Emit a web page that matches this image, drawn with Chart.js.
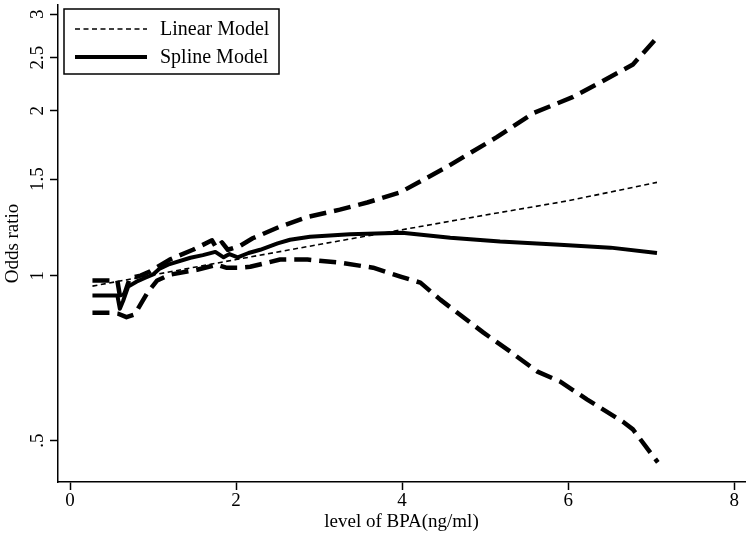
<!DOCTYPE html>
<html>
<head>
<meta charset="utf-8">
<script src="https://cdn.jsdelivr.net/npm/chart.js@4.4.1/dist/chart.umd.min.js"></script>
<style>
html,body{margin:0;padding:0;background:#fff;}
#wrap{width:750px;height:535px;position:relative;}
</style>
</head>
<body>
<div id="wrap"><canvas id="c" width="750" height="535"></canvas></div>
<script>
// ---- data ----
const xTicks = [0, 2, 4, 6, 8];
const yTicks = [0.5, 1, 1.5, 2, 2.5, 3];
const yTickLabels = ['.5', '1', '1.5', '2', '2.5', '3'];

const linearX = [0.27, 1.0, 2.0, 3.0, 4.0, 5.0, 6.0, 7.07];
const linearY = [0.957, 1.003, 1.07, 1.14, 1.213, 1.29, 1.37, 1.48];

const splineX = [0.27, 0.57, 0.60, 0.64, 0.70, 0.80, 0.90, 1.00, 1.08, 1.20, 1.45, 1.60, 1.75, 1.85, 1.92, 2.02, 2.15, 2.29, 2.50, 2.65, 2.89, 3.37, 4.00, 4.58, 5.18, 5.90, 6.51, 7.07];
const splineY = [0.92, 0.92, 0.87, 0.90, 0.955, 0.975, 0.99, 1.005, 1.03, 1.05, 1.078, 1.09, 1.105, 1.08, 1.095, 1.08, 1.10, 1.115, 1.145, 1.163, 1.178, 1.19, 1.198, 1.173, 1.154, 1.139, 1.125, 1.10];

const upperX = [0.27, 0.57, 0.61, 0.66, 0.72, 0.85, 0.96, 1.20, 1.48, 1.71, 1.76, 1.83, 1.90, 2.05, 2.20, 2.53, 2.86, 3.25, 3.58, 3.98, 4.54, 5.14, 5.58, 6.06, 6.63, 6.78, 7.07];
const upperY = [0.98, 0.98, 0.90, 0.93, 0.99, 1.0, 1.017, 1.07, 1.115, 1.16, 1.125, 1.15, 1.115, 1.134, 1.17, 1.229, 1.28, 1.32, 1.36, 1.42, 1.58, 1.79, 1.98, 2.12, 2.36, 2.43, 2.72];

const lowerX = [0.27, 0.48, 0.58, 0.68, 0.78, 0.93, 1.05, 1.20, 1.53, 1.77, 1.88, 2.05, 2.17, 2.53, 2.86, 3.25, 3.65, 3.98, 4.22, 4.46, 4.98, 5.30, 5.63, 5.90, 6.23, 6.66, 6.78, 7.08];
const lowerY = [0.856, 0.856, 0.852, 0.84, 0.85, 0.93, 0.98, 1.004, 1.025, 1.047, 1.034, 1.034, 1.038, 1.07, 1.07, 1.056, 1.034, 0.996, 0.971, 0.904, 0.787, 0.727, 0.668, 0.641, 0.594, 0.541, 0.524, 0.456];

const legendLabels = ['Linear Model', 'Spline Model'];
const xTitle = 'level of BPA(ng/ml)';
const yTitle = 'Odds ratio';

// ---- build ----
function zip(xs, ys) { return xs.map((x, i) => ({x: x, y: ys[i]})); }
const FONT = "'Liberation Serif', 'Times New Roman', serif";

const datasets = [
  {label: legendLabels[0], data: zip(linearX, linearY), borderColor: '#000', borderWidth: 1.6, borderDash: [5, 3.5], inLegend: true},
  {label: legendLabels[1], data: zip(splineX, splineY), borderColor: '#000', borderWidth: 4, borderDash: [], inLegend: true},
  {label: 'Upper CI', data: zip(upperX, upperY), borderColor: '#000', borderWidth: 4.5, borderDash: [17, 8], inLegend: false},
  {label: 'Lower CI', data: zip(lowerX, lowerY), borderColor: '#000', borderWidth: 4.5, borderDash: [17, 8], inLegend: false}
].map(d => Object.assign(d, {pointRadius: 0, tension: 0, fill: false, borderCapStyle: 'butt', borderJoinStyle: 'round'}));

const customDraw = {
  id: 'customDraw',
  afterDraw(chart) {
    const ctx = chart.ctx;
    const ys = chart.scales.y;
    ctx.save();
    ctx.fillStyle = '#000';
    ctx.font = '19px ' + FONT;
    ctx.textAlign = 'center';
    ctx.textBaseline = 'middle';
    yTicks.forEach((v, i) => {
      const py = ys.getPixelForValue(v);
      ctx.save();
      ctx.translate(38, py);
      ctx.rotate(-Math.PI / 2);
      ctx.fillText(yTickLabels[i], 0, 0);
      ctx.restore();
    });
    // legend box
    const bx = 64, by = 9, bw = 215, bh = 65;
    ctx.lineWidth = 1.5;
    ctx.strokeStyle = '#000';
    ctx.strokeRect(bx, by, bw, bh);
    const entries = chart.data.datasets.filter(d => d.inLegend);
    const rowY = [29, 57];
    entries.forEach((d, i) => {
      ctx.beginPath();
      ctx.setLineDash(d.borderDash);
      ctx.lineWidth = d.borderWidth;
      ctx.moveTo(75, rowY[i]);
      ctx.lineTo(147, rowY[i]);
      ctx.stroke();
      ctx.setLineDash([]);
      ctx.textAlign = 'left';
      ctx.font = '20px ' + FONT;
      ctx.fillText(d.label, 160, rowY[i] + 1);
    });
    ctx.restore();
  }
};

new Chart(document.getElementById('c'), {
  type: 'line',
  data: {datasets: datasets},
  options: {
    responsive: false,
    animation: false,
    devicePixelRatio: 1,
    layout: {padding: {top: 5, right: 5, bottom: 0, left: 0}},
    plugins: {legend: {display: false}, tooltip: {enabled: false}},
    scales: {
      x: {
        type: 'linear',
        min: -0.145, max: 8.13,
        afterBuildTicks: s => { s.ticks = xTicks.map(v => ({value: v})); },
        afterFit: s => { s.height = 53; },
        border: {display: true, color: '#000', width: 1.5},
        grid: {drawOnChartArea: false, drawTicks: true, tickLength: 8, color: '#000', tickWidth: 1.5},
        ticks: {color: '#000', padding: 0, font: {family: FONT, size: 19}, maxRotation: 0, autoSkip: false, callback: v => String(v)},
        title: {display: true, text: xTitle, color: '#000', font: {family: FONT, size: 19}, padding: {top: 0, bottom: 2}}
      },
      y: {
        type: 'logarithmic',
        min: 0.42, max: 3.12,
        afterBuildTicks: s => { s.ticks = yTicks.map(v => ({value: v})); },
        afterFit: s => { s.width = 58; },
        border: {display: true, color: '#000', width: 1.5},
        grid: {drawOnChartArea: false, drawTicks: true, tickLength: 8, color: '#000', tickWidth: 1.5},
        ticks: {display: false},
        title: {display: true, text: yTitle, color: '#000', font: {family: FONT, size: 19}, padding: {top: 2, bottom: 0}}
      }
    }
  },
  plugins: [customDraw]
});
</script>
</body>
</html>
